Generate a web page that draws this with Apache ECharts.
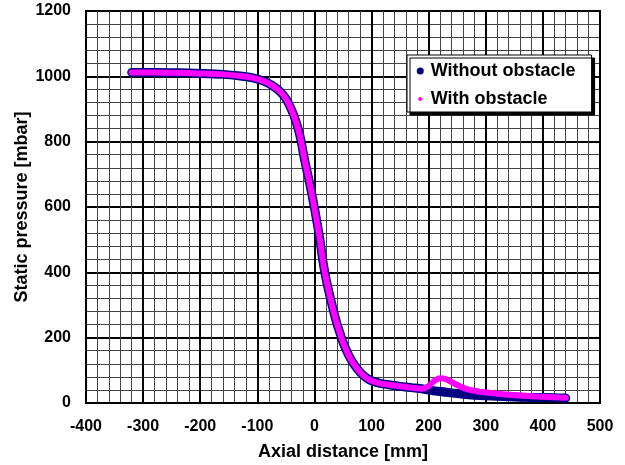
<!DOCTYPE html>
<html>
<head>
<meta charset="utf-8">
<script src="https://cdn.jsdelivr.net/npm/echarts@6/dist/echarts.min.js"></script>
<style>
  html, body { margin: 0; padding: 0; background: #fff; }
  #chart { width: 625px; height: 465px; }
</style>
</head>
<body>
<div id="chart"></div>
<script>
// values
var axialWithout = [-320, -280, -240, -200, -160, -130, -110, -90, -75, -60, -50, -40, -32, -25, -17, -10, -5, 0, 5, 10, 15, 20, 27, 33, 39, 45, 50, 60, 68, 80, 91, 100, 115, 130, 150, 170, 190, 200, 220, 240, 260, 280, 300, 340, 380, 420, 440]
var pressureWithout = [1012, 1012, 1011, 1009, 1006, 1001, 996, 986, 973, 953, 932, 897, 860, 815, 742, 686, 643, 597, 548, 495, 432, 383, 328, 284, 245, 212, 186, 146, 122, 94, 77, 68, 60, 56, 51, 47, 43, 40, 35, 31, 27, 24, 22, 19, 17, 16, 15]

var axialWith = [-320, -280, -240, -200, -160, -130, -110, -90, -75, -60, -50, -40, -32, -25, -17, -10, -5, 0, 5, 10, 15, 20, 27, 33, 39, 45, 50, 60, 68, 80, 91, 100, 115, 130, 150, 170, 190, 200, 210, 220, 230, 240, 250, 260, 270, 285, 300, 330, 360, 400, 440]
var pressureWith = [1012, 1012, 1011, 1009, 1006, 1001, 996, 986, 973, 953, 932, 897, 860, 815, 742, 686, 643, 597, 548, 495, 432, 383, 328, 284, 245, 212, 186, 146, 122, 94, 77, 68, 60, 56, 51, 47, 44, 52, 68, 76, 73, 64, 55, 47, 41, 36, 32, 27, 23, 19, 16]

var seriesNames = ['Without obstacle', 'With obstacle']

function pairs(xs, ys) {
  return xs.map(function (x, i) { return [x, ys[i]] })
}

var font = "'Liberation Sans', Arial, sans-serif"
var chart = echarts.init(document.getElementById('chart'))

chart.setOption({
  animation: false,
  grid: {
    left: 86, right: 25, top: 11, bottom: 62,
    show: true, borderColor: '#000', borderWidth: 2,
    outerBoundsMode: 'none'
  },
  legend: {
    orient: 'vertical',
    left: 407, top: 55,
    padding: [7, 16, 4, 9],
    itemGap: 10,
    itemWidth: 7, itemHeight: 7,
    backgroundColor: '#fff',
    borderColor: '#000', borderWidth: 1,
    shadowColor: '#000', shadowBlur: 0, shadowOffsetX: 3, shadowOffsetY: 3,
    textStyle: { fontFamily: font, fontWeight: 'bold', fontSize: 18, color: '#000', padding: [0, 0, 0, 2] },
    data: [
      { name: seriesNames[0], icon: 'circle', itemStyle: { color: '#000080' } },
      { name: seriesNames[1], icon: 'diamond', itemStyle: { color: '#ff00ff', borderColor: '#fff', borderWidth: 1.5 } }
    ]
  },
  xAxis: {
    type: 'value',
    min: -400, max: 500, interval: 100,
    name: 'Axial distance [mm]',
    nameLocation: 'middle', nameGap: 40,
    nameMoveOverlap: false,
    nameTextStyle: { fontFamily: font, fontWeight: 'bold', fontSize: 18, color: '#000' },
    axisLine: { lineStyle: { color: '#000', width: 2 } },
    axisTick: { show: false },
    axisLabel: { fontFamily: font, fontWeight: 'bold', fontSize: 16, color: '#000', margin: 16 },
    splitLine: { lineStyle: { color: '#000', width: 2 } },
    minorTick: { show: false, splitNumber: 5 },
    minorSplitLine: { show: true, lineStyle: { color: '#444', width: 1 } }
  },
  yAxis: {
    type: 'value',
    min: 0, max: 1200, interval: 200,
    name: 'Static pressure [mbar]',
    nameLocation: 'middle', nameGap: 55,
    nameMoveOverlap: false,
    nameTextStyle: { fontFamily: font, fontWeight: 'bold', fontSize: 18, color: '#000' },
    axisLine: { show: true, lineStyle: { color: '#000', width: 2 } },
    axisTick: { show: false },
    axisLabel: {
      fontFamily: font, fontWeight: 'bold', fontSize: 16, color: '#000', margin: 15,
      formatter: function (v) { return String(v) }
    },
    splitLine: { lineStyle: { color: '#000', width: 2 } },
    minorTick: { show: false, splitNumber: 5 },
    minorSplitLine: { show: true, lineStyle: { color: '#444', width: 1 } }
  },
  series: [
    {
      name: seriesNames[0],
      type: 'line',
      data: pairs(axialWithout, pressureWithout),
      smooth: 0.3,
      showSymbol: false,
      itemStyle: { color: '#000080' },
      lineStyle: { color: '#000080', width: 9, cap: 'round', join: 'round' },
      z: 3
    },
    {
      name: seriesNames[1],
      type: 'line',
      data: pairs(axialWith, pressureWith),
      smooth: 0.3,
      showSymbol: false,
      itemStyle: { color: '#ff00ff' },
      lineStyle: { color: '#ff00ff', width: 6, cap: 'round', join: 'round' },
      z: 4
    }
  ]
})
</script>
</body>
</html>
